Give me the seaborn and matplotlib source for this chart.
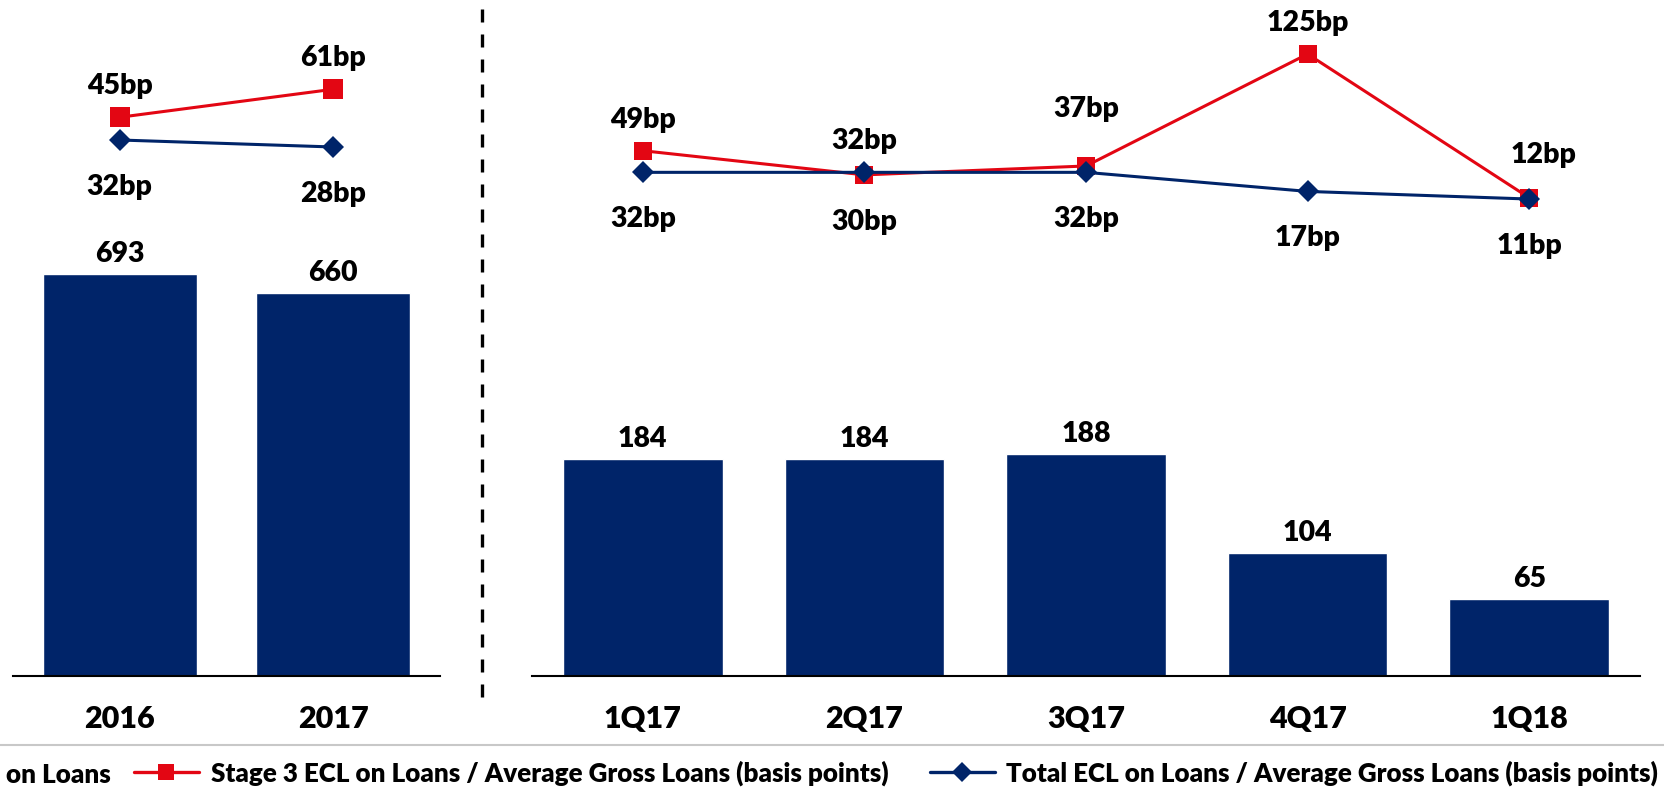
import numpy as np
import pandas as pd
import matplotlib
matplotlib.use("Agg")
import matplotlib.pyplot as plt
from matplotlib.lines import Line2D
import seaborn as sns

# annual figures
years = ['2016', '2017']
year_ecl = [693, 660]
year_stage3 = [45, 61]
year_total = [32, 28]

# quarterly figures
quarters = ['1Q17', '2Q17', '3Q17', '4Q17', '1Q18']
qtr_ecl = [184, 184, 188, 104, 65]
qtr_stage3 = [49, 30, 37, 125, 12]
qtr_total = [32, 32, 32, 17, 11]

# the bar series' legend label is cut off at the left edge of the slide
bar_label_tail = 'on Loans'
legend_labels = ['Stage 3 ECL on Loans / Average Gross Loans (basis points)',
                 'Total ECL on Loans / Average Gross Loans (basis points)']

NAVY = '#002469'
RED = '#E30613'
WEIGHT = 'heavy'

sns.set_style('white')
plt.rcParams['font.family'] = ['Lato', 'DejaVu Sans']
plt.rcParams['font.weight'] = WEIGHT
plt.rcParams['text.color'] = 'black'
plt.rcParams['xtick.color'] = 'black'

W, H = 1665, 794
fig = plt.figure(figsize=(W / 100, H / 100), dpi=100)


def px_box(x0, x1, ytop, ybot):
    return [x0 / W, 1 - ybot / H, (x1 - x0) / W, (ybot - ytop) / H]


# label nudges in pixels (dx, dy) where the default spot would collide
nudge = {('3Q17', 'stage3'): (0, 59), ('1Q18', 'stage3'): (14, 45)}


def draw_panel(ax, cats, bars, red, blue, bar_top, line_lim, sq_size):
    df = pd.DataFrame({'period': cats, 'ecl': bars, 'stage3': red, 'total': blue})
    sns.barplot(data=df, x='period', y='ecl', color=NAVY, saturation=1,
                width=0.72, ax=ax)
    ax.set_ylim(0, bar_top)
    ax.set_xlim(-0.5, len(cats) - 0.5)
    for i, v in enumerate(bars):
        ax.annotate(str(v), (i, v), xytext=(0, 12), textcoords='offset pixels',
                    ha='center', va='baseline', fontsize=20.5, fontweight=WEIGHT)

    tw = ax.twinx()
    sns.pointplot(data=df, x='period', y='stage3', color=RED, markers='s',
                  linestyles='-', errorbar=None, ax=tw, linewidth=2.2,
                  markersize=sq_size, markeredgewidth=0)
    sns.pointplot(data=df, x='period', y='total', color=NAVY, markers='D',
                  linestyles='-', errorbar=None, ax=tw, linewidth=2.2,
                  markersize=11, markeredgewidth=0)
    tw.set_ylim(*line_lim)
    tw.set_xlim(-0.5, len(cats) - 0.5)

    for i, c in enumerate(cats):
        for key, v, other in (('stage3', red[i], blue[i]), ('total', blue[i], red[i])):
            dx, dy = (0, 33) if v >= other else (0, -45)
            dx, dy = nudge.get((c, key), (dx, dy))
            tw.annotate(f'{v}bp', (i, v), xytext=(dx, dy - 10), textcoords='offset pixels',
                        ha='center', va='baseline', fontsize=20.5, fontweight=WEIGHT)

    for a in (ax, tw):
        a.set_xlabel('')
        a.set_ylabel('')
        a.set_yticks([])
        for s in ('top', 'left', 'right'):
            a.spines[s].set_visible(False)
    tw.spines['bottom'].set_visible(False)
    ax.spines['bottom'].set_color('black')
    ax.spines['bottom'].set_linewidth(1.5)
    ax.tick_params(axis='x', length=0, pad=21, labelsize=22)
    for lab in ax.get_xticklabels():
        lab.set_fontweight(WEIGHT)


ax_l = fig.add_axes(px_box(13, 440, 0, 676))
ax_r = fig.add_axes(px_box(532, 1640, 0, 676))

draw_panel(ax_l, years, year_ecl, year_stage3, year_total, 1165.5, (-274.3, 112), 14.5)
draw_panel(ax_r, quarters, qtr_ecl, qtr_stage3, qtr_total, 573.4, (-364.0, 167.5), 12.5)

# dashed divider between annual and quarterly panels
div = Line2D([482 / W, 482 / W], [1 - 697 / H, 1 - 3 / H], transform=fig.transFigure,
             color='black', linewidth=2.4)
div.set_dashes((3.9, 3.6))
fig.add_artist(div)

# thin grey rule above the legend
fig.add_artist(Line2D([0, 1], [1 - 745 / H, 1 - 745 / H], transform=fig.transFigure,
                      color='#C8C8C8', linewidth=1.5))

# legend
fs = 18.7
leg_y = 1 - 773 / H
fig.text(6 / W, leg_y, bar_label_tail, ha='left', va='center_baseline',
         fontsize=fs, fontweight=WEIGHT)
handles = [Line2D([], [], color=RED, linewidth=2.4, marker='s', markersize=12, markeredgewidth=0),
           Line2D([], [], color=NAVY, linewidth=2.4, marker='D', markersize=10, markeredgewidth=0)]
fig.legend(handles, legend_labels, loc='center left', bbox_to_anchor=(134 / W, leg_y),
           ncol=2, frameon=False, handlelength=2.5, handletextpad=0.45,
           columnspacing=1.6, borderpad=0, borderaxespad=0,
           prop={'weight': WEIGHT, 'size': fs})

fig.savefig('out.png', dpi=100)
